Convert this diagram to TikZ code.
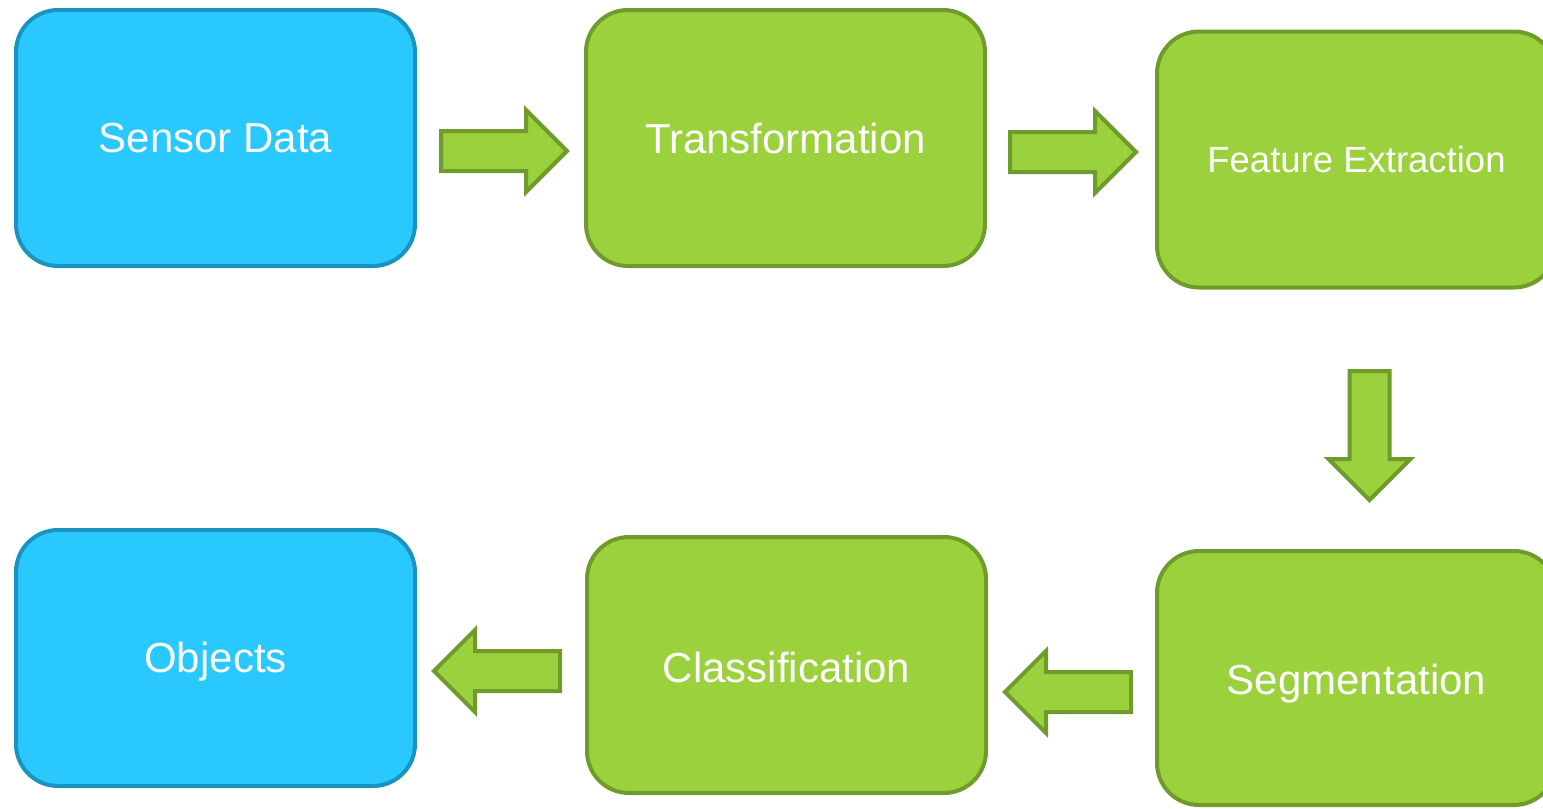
\documentclass[tikz,border=0pt]{standalone}
\usepackage{fontspec}
\setmainfont{Liberation Sans}
\usetikzlibrary{shapes.arrows}
\definecolor{skyfill}{HTML}{29C9FF}
\definecolor{skyline}{HTML}{1B93C0}
\definecolor{leaffill}{HTML}{9AD13C}
\definecolor{leafline}{HTML}{6E9B2B}

\begin{document}
\begin{tikzpicture}[x=1pt,y=-1pt,
    stage/.style={draw,line width=4pt,rounded corners=42pt,minimum width=399pt,minimum height=256pt,inner sep=0pt,text=white,font=\fontsize{42}{48}\selectfont},
    iobox/.style={stage,fill=skyfill,draw=skyline},
    workbox/.style={stage,fill=leaffill,draw=leafline},
    flow/.style={single arrow,draw=leafline,fill=leaffill,line width=4pt,inner xsep=0pt,inner ysep=18pt,minimum height=126pt,single arrow head extend=21pt,anchor=tail}]
                \useasboundingbox (0,0) rectangle (1543,809);
                \clip (0,0) rectangle (1543,809);
                % stages
                \node[iobox] (sensor) at (215.5,138) {Sensor Data};
                \node[workbox] (transf) at (785.5,138) {Transformation};
                \node[workbox,font=\fontsize{36.5}{42}\selectfont] (feat) at (1356.5,159.5) {Feature Extraction};
                \node[workbox,minimum height=254pt] (segm) at (1356.5,678) {\raisebox{-6pt}[\height][\depth]{Segmentation}};
                \node[workbox] (classif) at (786.5,665) {\raisebox{-2pt}[\height][\depth]{Classification}};
                \node[iobox] (objects) at (215.5,658) {\raisebox{-4pt}[\height][\depth]{Objects}};
                % arrows between stages
                \node[flow] (a1) at (439,151) {};
                \node[flow] (a2) at (1008,152) {};
                \node[flow,rotate=-90,minimum height=129pt] (a3) at (1369.5,369) {};
                \node[flow,rotate=180] (a4) at (1133,692) {};
                \node[flow,rotate=180] (a5) at (562,671) {};
            \end{tikzpicture}
\end{document}
